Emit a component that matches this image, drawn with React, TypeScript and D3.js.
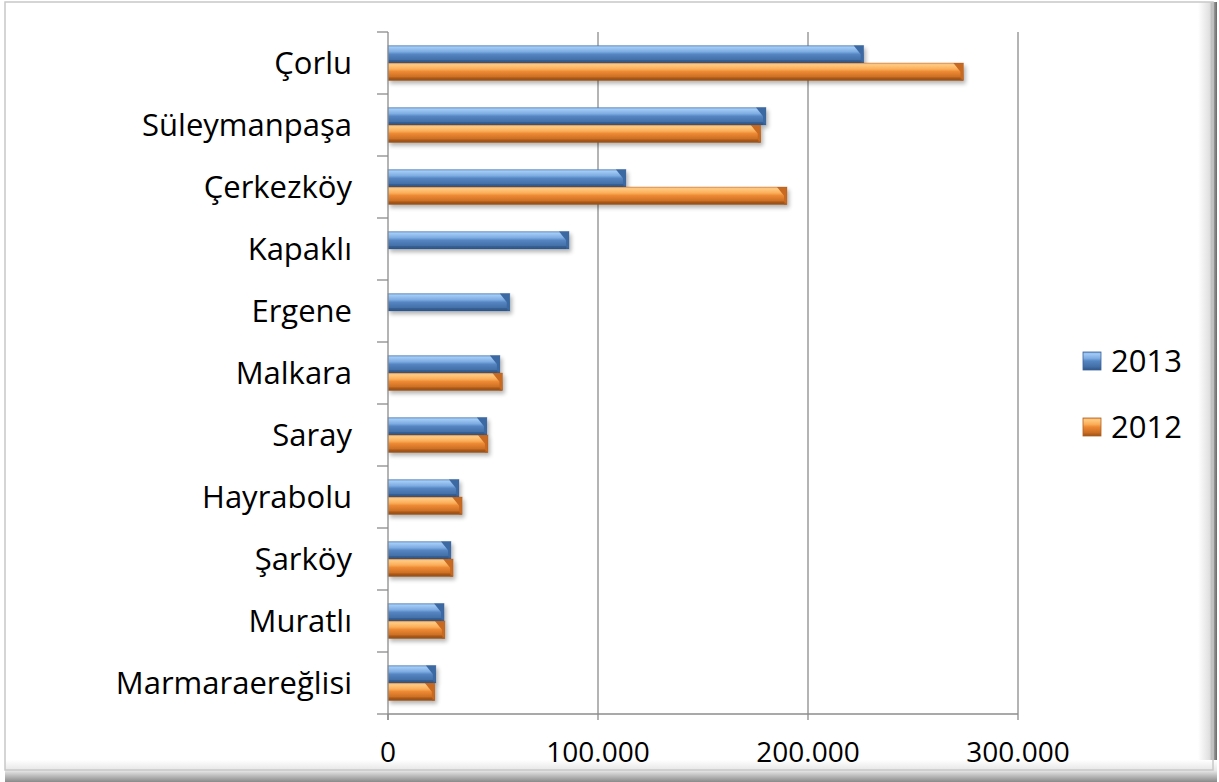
import React, { useRef, useEffect } from 'react';
import * as d3 from 'd3';

const categories = [
  'Çorlu', 'Süleymanpaşa', 'Çerkezköy', 'Kapaklı', 'Ergene', 'Malkara',
  'Saray', 'Hayrabolu', 'Şarköy', 'Muratlı', 'Marmaraereğlisi',
];
const values2013 = [226500, 180000, 113300, 86200, 58000, 53300, 47100, 33800, 30000, 26700, 22800];
const values2012: (number | null)[] = [274000, 177500, 190000, null, null, 54500, 47600, 35300, 31000, 27100, 22300];
const seriesNames = ['2013', '2012'];
const xTicks = [0, 100000, 200000, 300000];

const W = 1219;
const H = 782;

const App: React.FC = () => {
  const svgRef = useRef<SVGSVGElement>(null);

  useEffect(() => {
    const svg = d3.select(svgRef.current);
    svg.selectAll('*').remove();

    const margin = { top: 32, left: 388, right: 1018, bottom: 714 };
    const font = '"Open Sans", "Noto Sans", sans-serif';

    const defs = svg.append('defs');
    const grad = (id: string, stops: [number, string][], x2 = '0', y2 = '1') => {
      const g = defs.append('linearGradient').attr('id', id)
        .attr('x1', 0).attr('y1', 0).attr('x2', x2).attr('y2', y2);
      stops.forEach(([o, c]) => g.append('stop').attr('offset', o).attr('stop-color', c));
    };
    grad('blue', [[0, '#6f9fd8'], [0.1, '#a2caf4'], [0.35, '#7eade3'], [0.5, '#5585c2'], [0.8, '#4470a8'], [1, '#2f5586']]);
    grad('orange', [[0, '#f3a055'], [0.1, '#ffcb82'], [0.35, '#fbad58'], [0.5, '#ec8833'], [0.8, '#cc6f24'], [1, '#9c521a']]);
    grad('shadowR', [[0, '#ffffff'], [0.6, '#e0e0e0'], [1, '#6a6a6a']], '1', '0');
    grad('shadowB', [[0, '#ffffff'], [0.5, '#e4e4e4'], [1, '#8a8a8a']]);

    const flt = defs.append('filter').attr('id', 'ds').attr('x', '-5%').attr('y', '-30%').attr('width', '115%').attr('height', '180%');
    flt.append('feGaussianBlur').attr('in', 'SourceAlpha').attr('stdDeviation', 2);
    flt.append('feOffset').attr('dx', 2).attr('dy', 3).attr('result', 'b');
    flt.append('feComponentTransfer').append('feFuncA').attr('type', 'linear').attr('slope', 0.3);
    const mg = flt.append('feMerge');
    mg.append('feMergeNode');
    mg.append('feMergeNode').attr('in', 'SourceGraphic');

    // chart frame
    svg.append('rect').attr('width', W).attr('height', H).attr('fill', '#ffffff');
    svg.append('rect').attr('x', 1198).attr('y', 2).attr('width', 19).attr('height', 780).attr('fill', 'url(#shadowR)');
    svg.append('rect').attr('x', 5).attr('y', 760).attr('width', 1212).attr('height', 22).attr('fill', 'url(#shadowB)');
    svg.append('rect').attr('x', 5).attr('y', 2).attr('width', 1208).attr('height', 768)
      .attr('fill', 'none').attr('stroke', '#c8c8c8').attr('stroke-width', 1.5);

    const x = d3.scaleLinear().domain([0, 300000]).range([margin.left, margin.right]);
    const y = d3.scaleBand().domain(categories).range([margin.top, margin.bottom]);
    const inner = d3.scaleBand().domain(seriesNames).range([0, y.bandwidth()]).paddingOuter(0.78).paddingInner(0);

    // gridlines
    svg.append('g').selectAll('line').data(xTicks.slice(1)).join('line')
      .attr('x1', d => x(d)).attr('x2', d => x(d))
      .attr('y1', margin.top).attr('y2', margin.bottom)
      .attr('stroke', '#8c8c8c').attr('stroke-width', 1.3);

    const bar = (g: d3.Selection<SVGGElement, unknown, null, undefined>, vals: (number | null)[], s: string, fill: string, dark: string, facet: string) => {
      const data = categories.map((c, i) => ({ c, v: vals[i] })).filter(d => d.v != null) as { c: string; v: number }[];
      const gg = g.append('g').attr('filter', 'url(#ds)');
      const h = inner.bandwidth();
      gg.selectAll('rect').data(data).join('rect')
        .attr('x', x(0)).attr('y', d => y(d.c)! + inner(s)!)
        .attr('width', d => x(d.v) - x(0)).attr('height', h)
        .attr('fill', `url(#${fill})`);
      // chamfered end of the bar
      gg.selectAll('path.bev').data(data).join('path').attr('class', 'bev')
        .attr('d', d => {
          const x1 = x(d.v), y0 = y(d.c)! + inner(s)!;
          return `M${x1 - 10},${y0} L${x1},${y0} L${x1},${y0 + h} L${x1 - 3},${y0 + h} L${x1 - 3},${y0 + h * 0.5} Z`;
        })
        .attr('fill', facet);
      gg.selectAll('path.bev3').data(data).join('path').attr('class', 'bev3')
        .attr('d', d => {
          const x1 = x(d.v), y0 = y(d.c)! + inner(s)!;
          return `M${x(0)},${y0 + h} L${x1},${y0 + h} L${x1 - 3},${y0 + h - 3} L${x(0)},${y0 + h - 3} Z`;
        })
        .attr('fill', dark).attr('opacity', 0.45);
      gg.selectAll('rect.o').data(data).join('rect').attr('class', 'o')
        .attr('x', x(0)).attr('y', d => y(d.c)! + inner(s)!)
        .attr('width', d => x(d.v) - x(0)).attr('height', h)
        .attr('fill', 'none').attr('stroke', dark).attr('stroke-opacity', 0.35).attr('stroke-width', 0.8);
    };
    const bars = svg.append('g');
    bar(bars, values2013, '2013', 'blue', '#2f5586', '#3d69a3');
    bar(bars, values2012, '2012', 'orange', '#8f4a16', '#c86a22');

    // axes
    const yAxis = svg.append('g').attr('transform', `translate(${margin.left},0)`);
    yAxis.append('line').attr('y1', margin.top).attr('y2', margin.bottom + 6)
      .attr('stroke', '#8c8c8c').attr('stroke-width', 1.3);
    const yTicks = categories.map(c => y(c)!).concat([margin.bottom]);
    yAxis.selectAll('line.t').data(yTicks).join('line').attr('class', 't')
      .attr('x1', -11).attr('x2', 0).attr('y1', d => d).attr('y2', d => d)
      .attr('stroke', '#8c8c8c').attr('stroke-width', 1.3);
    yAxis.selectAll('text').data(categories).join('text')
      .attr('x', -36).attr('y', d => y(d)! + y.bandwidth() / 2)
      .attr('dy', '0.36em').attr('text-anchor', 'end')
      .attr('font-family', font).attr('font-size', 31).attr('fill', '#000')
      .text(d => d);

    const xAxis = svg.append('g').attr('transform', `translate(0,${margin.bottom})`);
    xAxis.append('line').attr('x1', margin.left).attr('x2', margin.right)
      .attr('stroke', '#8c8c8c').attr('stroke-width', 1.3);
    xAxis.selectAll('line.t').data(xTicks).join('line').attr('class', 't')
      .attr('x1', d => x(d)).attr('x2', d => x(d)).attr('y1', 0).attr('y2', 6)
      .attr('stroke', '#8c8c8c').attr('stroke-width', 1.3);
    xAxis.selectAll('text').data(xTicks).join('text')
      .attr('x', d => x(d)).attr('y', 38).attr('dy', '0.36em').attr('text-anchor', 'middle')
      .attr('font-family', font).attr('font-size', 28).attr('fill', '#000')
      .text(d => d === 0 ? '0' : d3.format(',.3f')(d / 1000).replace(',', '.'));

    // legend
    const legend = svg.append('g');
    const lg = [{ n: '2013', f: 'blue' }, { n: '2012', f: 'orange' }];
    lg.forEach((d, i) => {
      const ly = 361 + i * 66;
      legend.append('rect').attr('x', 1083).attr('y', ly - 9).attr('width', 18).attr('height', 18)
        .attr('fill', `url(#${d.f})`).attr('stroke', i === 0 ? '#3a6399' : '#b0601e').attr('stroke-width', 0.8);
      legend.append('text').attr('x', 1111).attr('y', ly).attr('dy', '0.36em')
        .attr('font-family', font).attr('font-size', 31).attr('fill', '#000').text(d.n);
    });
  }, []);

  return (
    <div style={{ position: 'fixed', left: 0, top: 0 }}>
      <svg ref={svgRef} width={W} height={H} style={{ display: 'block' }} />
    </div>
  );
};

export default App;
